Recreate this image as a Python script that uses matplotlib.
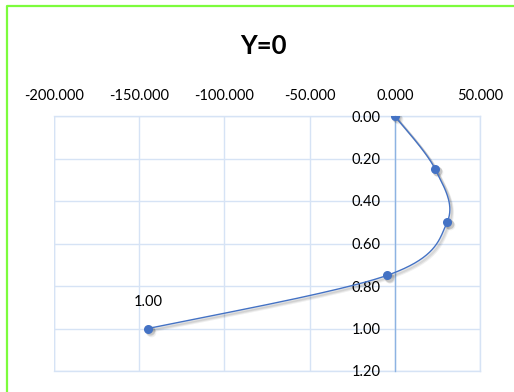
import numpy as np
import matplotlib.pyplot as plt
import matplotlib.transforms as mtransforms
from matplotlib.lines import Line2D

plt.rcParams['font.family'] = ['Lato', 'DejaVu Sans']

# profile at Y=0
x_vals = [0.0, 23.7, 30.7, -4.5, -144.7]
depth = [0.0, 0.25, 0.50, 0.75, 1.00]
x_ticks = [-200, -150, -100, -50, 0, 50]
y_ticks = [0.0, 0.2, 0.4, 0.6, 0.8, 1.0, 1.2]
title = 'Y=0'

blue = '#4472C4'
grid_c = '#D6E3F5'

W, H = 514, 392
fig = plt.figure(figsize=(W / 100, H / 100), dpi=100)
ax = fig.add_axes([54 / W, (H - 371) / H, (480 - 54) / W, (371 - 116) / H])

ax.set_xlim(x_ticks[0], x_ticks[-1])
ax.set_ylim(y_ticks[-1], y_ticks[0])
ax.set_xticks(x_ticks)
ax.set_yticks(y_ticks)
ax.set_xticklabels([f'{v:.3f}' for v in x_ticks])
ax.set_yticklabels([f'{v:.2f}' for v in y_ticks])
ax.xaxis.tick_top()
ax.tick_params(axis='x', length=0, pad=9, labelsize=10.5)
ax.tick_params(axis='y', length=0, pad=10, labelsize=10.5)
for lab in ax.get_yticklabels():
    lab.set_bbox(dict(facecolor='white', edgecolor='none', pad=1.5))
ax.grid(True, color=grid_c, linewidth=1.0)
for s in ('top', 'bottom', 'right'):
    ax.spines[s].set_color(grid_c)
    ax.spines[s].set_linewidth(1.0)
ax.spines['left'].set_position(('data', 0))
ax.spines['left'].set_color('#8DB3E2')
ax.spines['left'].set_linewidth(1.0)
ax.spines['left'].set_zorder(2.7)
ax.set_axisbelow(True)
# y labels sit on top of the horizontal grid/frame lines
ax.yaxis.set_zorder(2.6)
# left edge of plot area
ax.axvline(x_ticks[0], color=grid_c, linewidth=1.0, zorder=0)

# smooth curve (Catmull-Rom style Bezier in screen space)
fig.canvas.draw()
pts = ax.transData.transform(np.column_stack([x_vals, depth]))
ext = np.vstack([pts[0], pts, pts[-1]])
curve = []
t = np.linspace(0, 1, 40)[:, None]
for i in range(len(pts) - 1):
    p0, p3 = ext[i + 1], ext[i + 2]
    c1 = p0 + (ext[i + 2] - ext[i]) / 6
    c2 = p3 - (ext[i + 3] - ext[i + 1]) / 6
    seg = ((1 - t) ** 3) * p0 + 3 * ((1 - t) ** 2) * t * c1 + 3 * (1 - t) * t ** 2 * c2 + t ** 3 * p3
    curve.append(seg)
curve = ax.transData.inverted().transform(np.vstack(curve))

# soft drop shadow under line and markers
for k, a in ((2.2, 0.06), (1.6, 0.08), (1.0, 0.1)):
    off = mtransforms.offset_copy(ax.transData, fig=fig, x=k, y=-k, units='points')
    ax.plot(curve[:, 0], curve[:, 1], color='black', alpha=a, linewidth=1.6, transform=off, zorder=3)
    ax.plot(x_vals, depth, 'o', color='black', alpha=a, markersize=7, markeredgewidth=0,
            transform=off, zorder=3)

ax.plot(curve[:, 0], curve[:, 1], color=blue, linewidth=1.0, zorder=3.5)
ax.plot(x_vals, depth, 'o', color=blue, markersize=6.5, markeredgewidth=0, zorder=4)

ax.annotate(f'{depth[-1]:.2f}', (x_vals[-1], depth[-1]), xytext=(0, 19),
            textcoords='offset points', ha='center', va='center', fontsize=10.5)

fig.text(263 / W, 1 - 46 / H, title, ha='center', va='center',
         fontsize=18.5, fontweight='bold')

# outer frame
fig.add_artist(Line2D([6.5 / W, 6.5 / W, 1.0], [0.0, 1 - 5.5 / H, 1 - 5.5 / H],
                      transform=fig.transFigure, color='#7CFC3C', linewidth=1.6))

fig.savefig('out.png', dpi=100)
